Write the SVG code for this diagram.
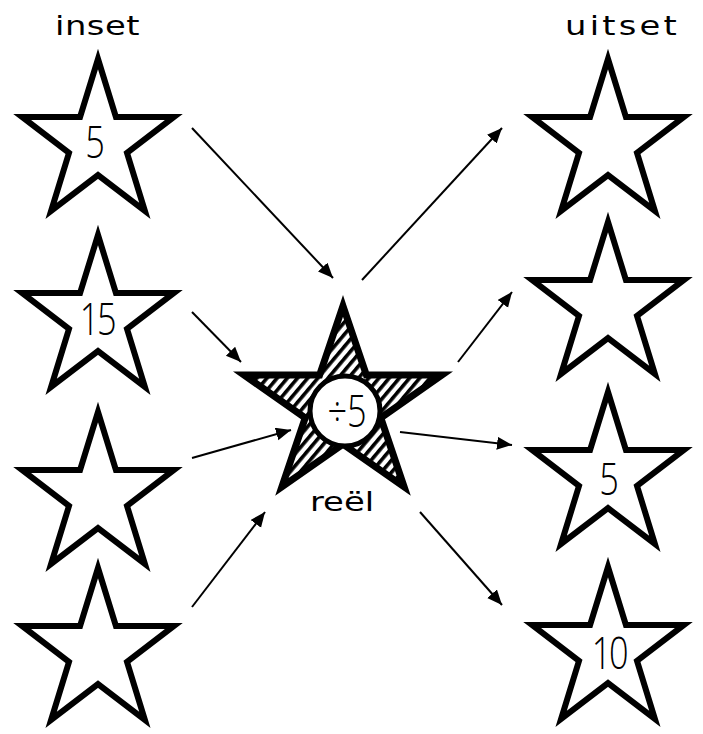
<svg xmlns="http://www.w3.org/2000/svg" xmlns:xlink="http://www.w3.org/1999/xlink" width="703" height="734" viewBox="0 0 703 734">
<style>
.star{fill:#fff;stroke:#000;stroke-width:6;stroke-linejoin:miter;stroke-miterlimit:10}
.big{fill:url(#hatch);stroke:#000;stroke-width:7;stroke-linejoin:miter;stroke-miterlimit:10}
.num{font-family:"Open Sans","Liberation Sans",Arial,sans-serif;font-weight:300;font-size:44px;fill:#000;text-anchor:middle}
.tight{letter-spacing:-3px}
.title{font-family:"DejaVu Sans",sans-serif;font-size:26px;fill:#000}
.arrow{stroke:#000;stroke-width:2;fill:none;marker-end:url(#ah)}
</style>
<defs>
<path id="s" d="M0,-84 L17.9,-26 L75.9,-26 L29,9.9 L46.9,68 L0,32.1 L-46.9,68 L-29,9.9 L-75.9,-26 L-17.9,-26 Z"/>
<pattern id="hatch" patternUnits="userSpaceOnUse" width="7.8" height="10" patternTransform="rotate(40)">
<rect width="7.8" height="10" fill="#fff"/>
<rect x="0" y="0" width="3.6" height="10" fill="#000"/>
</pattern>
<marker id="ah" markerUnits="userSpaceOnUse" markerWidth="16" markerHeight="14" refX="15" refY="6.5" orient="auto">
<path d="M0,0 L15,6.5 L0,13 Z" fill="#000"/>
</marker>
</defs>
<rect width="703" height="734" fill="#fff"/>
<text class="title" transform="translate(55,35) scale(1.3,1)" textLength="65" lengthAdjust="spacing">inset</text>
<text class="title" transform="translate(565,35) scale(1.3,1)" textLength="86" lengthAdjust="spacing">uitset</text>
<g id="in1"><use xlink:href="#s" class="star" x="98" y="143"/><text class="num" transform="translate(95,158) scale(0.78,1)">5</text></g>
<g id="in2"><use xlink:href="#s" class="star" x="98" y="319"/><text class="num tight" transform="translate(97,335) scale(0.78,1)">15</text></g>
<g id="in3"><use xlink:href="#s" class="star" x="98" y="496"/></g>
<g id="in4"><use xlink:href="#s" class="star" x="98" y="652"/></g>
<g id="out1"><use xlink:href="#s" class="star" x="608" y="143"/></g>
<g id="out2"><use xlink:href="#s" class="star" x="608" y="306"/></g>
<g id="out3"><use xlink:href="#s" class="star" x="608" y="476"/><text class="num" transform="translate(609,495) scale(0.78,1)">5</text></g>
<g id="out4"><use xlink:href="#s" class="star" x="608" y="651"/><text class="num tight" transform="translate(609,669) scale(0.78,1)">10</text></g>
<g id="rule">
<path class="big" transform="translate(343,406)" d="M0,-100 L23.4,-30.9 L98.9,-30.9 L37.8,11.8 L61.1,80.9 L0,38.2 L-61.1,80.9 L-37.8,11.8 L-98.9,-30.9 L-23.4,-30.9 Z"/>
<circle cx="345" cy="411" r="35" fill="#fff" stroke="#000" stroke-width="5"/>
<text class="num" transform="translate(347,427) scale(0.78,1)">÷5</text>
<text class="title" transform="translate(342,511) scale(1.3,1)" text-anchor="middle">reël</text>
</g>
<g id="connectors">
<line class="arrow" x1="192" y1="128" x2="333" y2="278"/>
<line class="arrow" x1="192" y1="312" x2="241" y2="362"/>
<line class="arrow" x1="192" y1="458" x2="291" y2="430"/>
<line class="arrow" x1="192" y1="607" x2="265" y2="512"/>
<line class="arrow" x1="362" y1="280" x2="502" y2="128"/>
<line class="arrow" x1="458" y1="362" x2="512" y2="292"/>
<line class="arrow" x1="400" y1="432" x2="512" y2="445"/>
<line class="arrow" x1="420" y1="512" x2="502" y2="605"/>
</g>
</svg>
